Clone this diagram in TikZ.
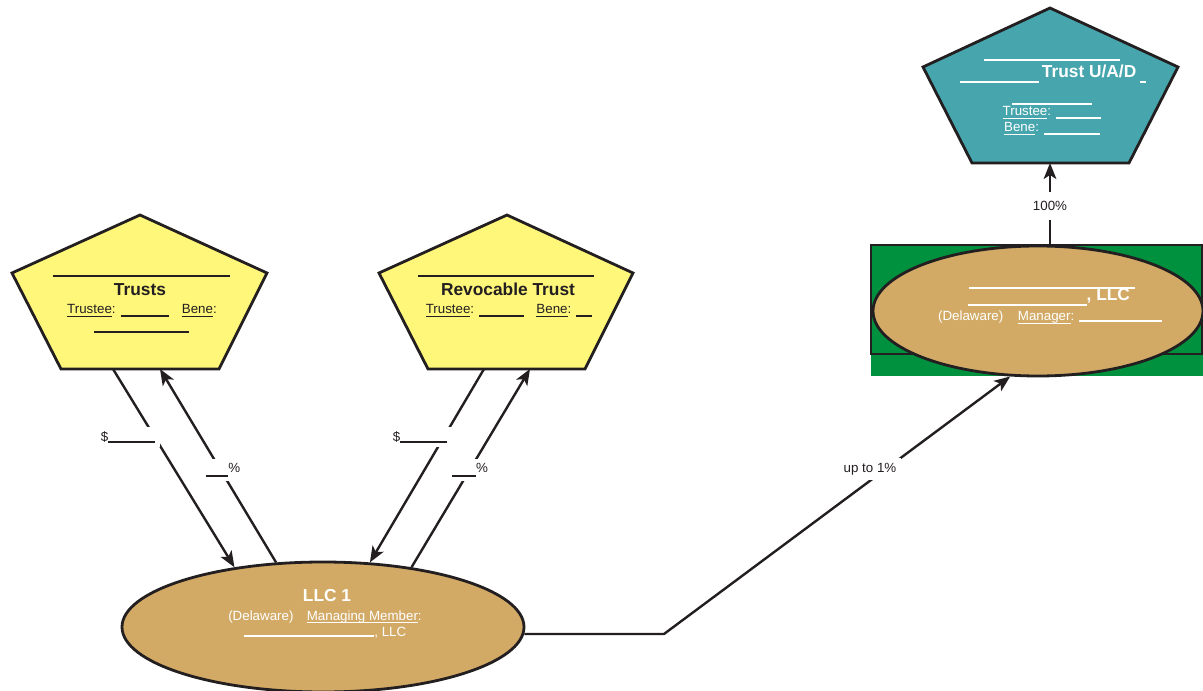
\documentclass[tikz,border=0pt]{standalone}
\usepackage{fontspec}
\setmainfont{Liberation Sans}
\usetikzlibrary{shapes.geometric,arrows.meta}
\definecolor{ink}{HTML}{231F20}
\definecolor{yel}{HTML}{FFF77A}
\definecolor{tan}{HTML}{D2AA66}
\definecolor{teal}{HTML}{47A5AD}
\definecolor{grn}{HTML}{00913F}
\newcommand\blank[2][-2.5pt]{\rule[#1]{#2}{1.5pt}}
\newcommand\ulw[1]{\setbox0\hbox{#1}\rlap{\rule[-2.4pt]{\wd0}{1.2pt}}\box0}
\newcommand\smallf{\fontsize{10}{12}\selectfont}
\newcommand\bigf{\fontsize{13}{15}\selectfont\bfseries}
\tikzset{
  shapeline/.style={draw=ink, line width=2.1pt, line join=miter},
  conn/.style={draw=ink, line width=1.8pt},
  arr/.style={conn, -{Stealth[length=12pt,width=9.5pt,inset=3pt]}},
  lbl/.style={fill=white, text=ink, font=\smallf, inner sep=3.5pt},
  dtext/.style={anchor=base, text=ink, inner sep=0pt},
  wtext/.style={anchor=base, text=white, inner sep=0pt},
  rulew/.style={line width=1.8pt},
}
\begin{document}
\begin{tikzpicture}[x=0.75pt, y=-0.75pt]
\useasboundingbox (0,0) rectangle (1203,691);

% ---- Trusts pentagon
\draw[shapeline, fill=yel] (140,215) -- (267,273) -- (219,369) -- (61,369) -- (12,273) -- cycle;
\draw[ink, rulew] (53,276) -- (230,276);
\node[dtext, font=\bigf] (t1name) at (140,296) {Trusts};
\node[dtext, font=\smallf] (t1l2) at (142,314) {\ulw{Trustee}: \blank{36pt}\hspace{10pt}\ulw{Bene}:};
\draw[ink, rulew] (94,332) -- (189,332);
\coordinate (t1a) at (113,369);
\coordinate (t1b) at (160,369);

% ---- Revocable Trust pentagon
\draw[shapeline, fill=yel] (507,215) -- (633,273) -- (585,369) -- (428,369) -- (379,273) -- cycle;
\draw[ink, rulew] (418,276) -- (594,276);
\node[dtext, font=\bigf] (t2name) at (508,296) {Revocable Trust};
\node[dtext, font=\smallf] (t2l2) at (509,314) {\ulw{Trustee}: \blank{34pt}\hspace{9pt}\ulw{Bene}: \blank{12pt}};
\coordinate (t2a) at (484,369);
\coordinate (t2b) at (530,369);

% ---- Trust U/A/D pentagon
\draw[shapeline, fill=teal] (1050,8) -- (1178,67) -- (1129,163) -- (972,163) -- (923,67) -- cycle;
\draw[white, rulew] (984,60) -- (1120,60);
\node[wtext, font=\bigf] (t3name) at (1053,78) {\blank[-4pt]{59pt}\,Trust U/A/D\hspace{3pt}\blank[-4pt]{4pt}};
\draw[white, rulew] (1012,104) -- (1092,104);
\node[wtext, font=\smallf] (t3l2) at (1052,116) {\ulw{Trustee}: \blank{34pt}};
\node[wtext, font=\smallf] (t3l3) at (1052,132) {\ulw{Bene}: \blank{42pt}};
\coordinate (t3b) at (1050,163);

% ---- green box and second LLC
\fill[grn] (871,245) rectangle (1203,376);
\node[draw=ink, line width=2.1pt, minimum width=331*0.75pt, minimum height=109*0.75pt, inner sep=0pt, fill=grn] (gbox) at (1036.5,299.5) {};
\node[ellipse, shapeline, fill=tan, minimum width=330*0.75pt, minimum height=130*0.75pt, inner sep=0pt] (llc2) at (1038,311) {};
\draw[white, rulew] (969,288) -- (1135,288);
\node[wtext, font=\bigf] (llc2name) at (1049,301) {\blank[-3.5pt]{89pt}, LLC};
\node[wtext, font=\smallf] (llc2l2) at (1050,321) {(Delaware)\hspace{11pt}\ulw{Manager}: \blank[-1pt]{62pt}};

% ---- LLC 1
\node[ellipse, shapeline, fill=tan, minimum width=402*0.75pt, minimum height=130*0.75pt, inner sep=0pt] (llc1) at (323,627) {};
\node[wtext, font=\bigf] (llc1name) at (327,601) {LLC 1};
\node[wtext, font=\smallf] (llc1l2) at (325,620) {(Delaware)\hspace{10pt}\ulw{Managing Member}:};
\node[wtext, font=\smallf] (llc1l3) at (325,636) {\blank[-1pt]{98pt}, LLC};

% ---- connectors
\draw[arr] (t1a) -- (llc1.146.5);
\draw[arr] (llc1.126.9) -- (t1b);
\draw[arr] (t2a) -- (llc1.54.1);
\draw[arr] (llc1.34.6) -- (t2b);
\coordinate (bend) at (664,634);
\draw[arr] (llc1.-2) -- (bend) -- (llc2.-113.6);
\draw[arr] (gbox.north -| t3b) -- (t3b);

% ---- labels
\node[lbl, anchor=east] (lab1) at (160,437) {\$\blank[-1pt]{35pt}};
\node[lbl] (lab2) at (223,470) {\blank[-3pt]{17pt}\%};
\node[lbl, anchor=east] (lab3) at (452,437) {\$\blank[-1pt]{35pt}};
\node[lbl] (lab4) at (470,470) {\blank[-3pt]{18pt}\%};
\node[lbl] (lab5) at (870,469) {up to 1\%};
\node[lbl, inner ysep=7pt] (lab6) at (1050,206) {100\%};
\end{tikzpicture}
\end{document}
